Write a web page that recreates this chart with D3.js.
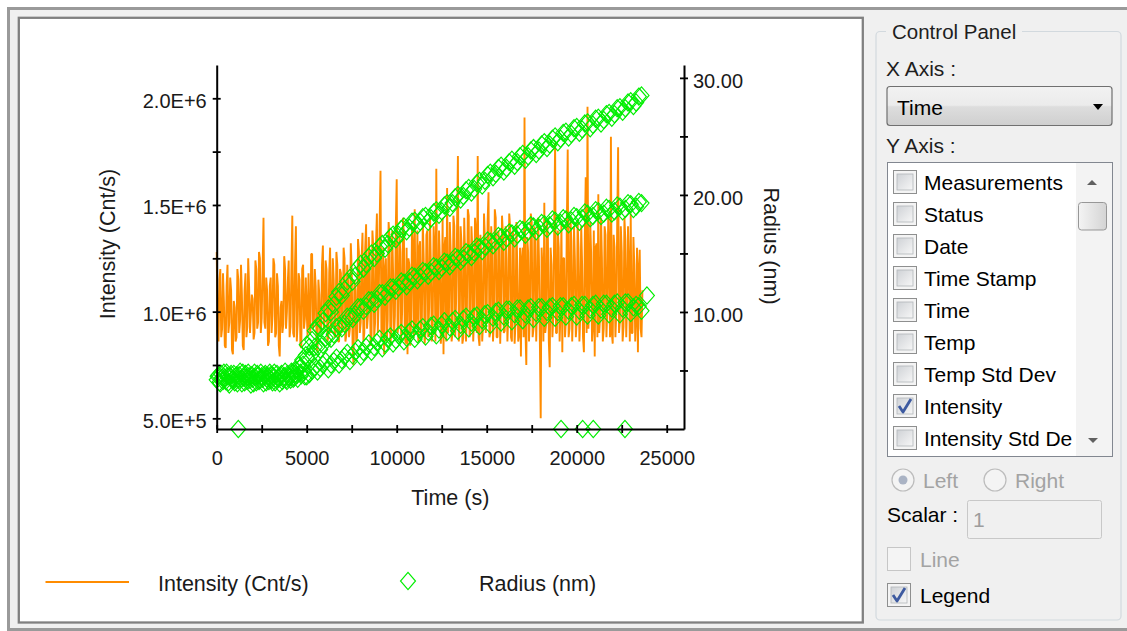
<!DOCTYPE html>
<html><head><meta charset="utf-8">
<script src="https://cdn.jsdelivr.net/npm/d3@7"></script>
<style>html,body{margin:0;padding:0;background:#fff;}svg{display:block;font-family:"Liberation Sans",Arial,sans-serif;}</style>
</head><body>
<svg id="c" width="1127" height="631"></svg>
<script>
// ---------------- DATA ----------------
const xTicks = [0,2500,5000,7500,10000,12500,15000,17500,20000,22500,25000];
const leftTicks = [500000,750000,1000000,1250000,1500000,1750000,2000000];
const rightTicks = [5,10,15,20,25,30];
const sampleInterval = 50; // s between intensity samples
// intensity, Cnt/s (in units of 1e6, one row = 1000 s)
const intensityM = [
1.28,0.90,0.86,1.15,1.20,0.88,0.92,1.18,1.05,0.84,0.83,1.12,1.22,0.90,0.95,1.16,1.10,0.82,0.80,1.05,
1.02,0.86,0.88,1.20,1.15,0.90,0.96,1.22,1.08,0.84,0.82,1.10,1.18,0.88,0.93,1.25,1.12,0.90,0.99,1.08,
1.06,0.87,0.90,1.24,1.20,0.92,0.95,1.28,1.25,0.90,0.97,1.20,1.44,0.95,0.92,1.16,1.10,0.84,0.86,1.12,
1.16,0.90,0.98,1.25,1.22,0.88,0.90,1.18,1.12,0.84,0.79,1.02,1.05,0.90,0.94,1.26,1.20,0.92,1.00,1.14,
1.24,0.88,0.93,1.20,1.45,0.90,0.88,1.22,1.40,0.86,0.95,1.18,1.15,0.84,0.83,1.20,1.22,0.92,0.97,1.16,
1.00,0.88,1.18,0.94,0.90,1.27,1.27,0.92,0.95,1.20,1.12,0.84,0.81,1.15,1.08,0.90,0.93,1.22,1.31,0.92,
0.97,1.24,1.20,0.86,0.88,1.18,1.30,0.90,0.96,1.25,1.15,0.88,0.90,1.28,1.22,0.86,0.86,1.20,1.18,0.90,
0.94,1.30,1.25,0.86,0.89,1.22,1.14,0.88,0.92,1.32,1.20,0.84,0.75,1.15,1.10,0.86,0.88,1.34,1.28,0.90,
0.95,1.25,1.37,0.86,0.90,1.30,1.41,0.92,0.98,1.35,1.22,0.84,0.87,1.38,1.30,0.88,0.95,1.32,1.46,0.90,
1.05,1.40,1.66,0.88,0.92,1.30,0.80,1.20,1.25,0.86,0.96,1.42,1.35,0.85,0.90,1.38,1.18,0.88,0.98,1.40,
1.62,0.90,0.94,1.36,1.28,0.86,1.00,1.44,1.36,0.88,0.85,1.30,0.80,1.25,1.22,0.84,0.95,1.40,1.30,0.88,
1.48,0.92,0.99,1.38,0.86,1.30,1.33,0.88,0.97,1.42,1.25,0.85,0.90,1.36,1.38,0.88,1.02,1.45,1.20,0.86,
0.94,1.40,1.30,0.86,1.67,0.92,0.98,1.38,1.24,0.85,0.92,1.44,0.80,1.30,1.35,0.86,1.58,0.90,0.96,1.42,
1.28,0.86,0.90,1.45,1.40,0.88,1.05,1.38,1.73,0.86,0.93,1.40,1.32,0.85,0.88,1.44,1.26,0.86,1.00,1.48,
1.45,0.88,0.92,1.40,1.30,0.86,0.97,1.44,1.38,0.90,1.73,0.88,0.84,1.36,1.22,0.86,0.95,1.46,1.34,0.90,
1.02,1.42,1.56,0.88,0.90,1.40,1.28,0.86,0.96,1.48,1.44,0.88,0.88,1.38,1.30,0.85,1.04,1.45,1.36,0.90,
0.91,1.40,1.25,0.86,0.99,1.46,1.40,0.88,0.86,1.38,1.32,0.85,0.95,1.42,1.20,0.86,0.89,1.30,0.79,1.25,
1.30,0.88,1.91,0.92,0.75,1.35,1.28,0.86,0.98,1.46,1.42,0.88,0.92,1.40,1.33,0.86,1.05,1.44,1.26,0.88,
0.50,1.30,1.20,0.86,1.51,0.90,0.94,1.42,1.35,0.86,0.74,1.30,1.22,0.88,0.98,1.40,1.79,0.90,0.90,1.38,
1.30,0.86,1.00,1.42,0.81,1.25,1.25,0.88,0.96,1.40,1.76,0.88,0.92,1.45,1.33,0.86,1.02,1.40,1.24,0.88,
0.95,1.42,1.30,0.86,0.99,1.40,1.22,0.88,0.81,1.35,1.63,0.90,1.96,0.92,1.05,1.42,1.28,0.86,0.93,1.38,
0.79,1.30,1.32,0.88,1.55,0.90,0.98,1.44,1.25,0.86,0.92,1.40,1.36,0.88,1.01,1.45,1.24,0.88,1.82,0.90,
0.85,1.36,1.30,0.88,1.00,1.42,1.77,0.90,0.96,1.40,1.28,0.86,0.93,1.44,1.34,0.88,1.05,1.40,1.20,0.86,
1.46,0.90,0.90,1.35,1.22,0.86,0.97,1.30,0.81,1.20,1.29,0.92,0.88,1.10
];
// radius [time s, radius nm]
const radiusEarly = [
[0,4.2],[100,4.6],[200,3.9],[300,4.4],[400,4.8],[500,4.1],[600,4.5],[700,3.8],[800,4.7],[900,4.3],
[1000,4.0],[1100,4.6],[1200,4.2],[1300,4.9],[1400,3.9],[1500,4.4],[1600,4.7],[1700,4.1],[1800,4.5],[1900,3.8],
[2000,4.3],[2100,4.8],[2200,4.0],[2300,4.6],[2400,4.2],[2500,4.5],[2600,3.9],[2700,4.7],[2800,4.3],[2900,4.1],
[3000,4.6],[3100,4.0],[3200,4.8],[3300,4.2],[3400,4.4],[3500,3.9],[3600,4.7],[3700,4.3],[3800,4.9],[3900,4.1],
[4000,4.5],[4100,4.2],[4200,4.8],[4300,4.4],[4400,5.0],[4500,4.3],[4600,5.2],[4700,4.6],[4800,5.5],[4900,4.5],
[50,4.5],[150,4.0],[250,4.7],[350,4.1],[450,4.4],[550,4.8],[650,4.0],[750,4.5],[850,4.2],[950,4.7],
[1050,4.3],[1150,3.9],[1250,4.6],[1350,4.3],[1450,4.8],[1550,4.0],[1650,4.4],[1750,4.8],[1850,4.2],[1950,4.6],
[2050,3.9],[2150,4.4],[2250,4.7],[2350,4.1],[2450,4.8],[2550,4.3],[2650,4.6],[2750,4.0],[2850,4.5],[2950,4.8],
[3050,4.2],[3150,4.5],[3250,4.0],[3350,4.7],[3450,4.3],[3550,4.6],[3650,4.1],[3750,4.5],[3850,4.2],[3950,4.7],
[4050,4.4],[4150,4.9],[4250,4.3],[4350,4.7],[4450,4.6],[4550,5.4],[4650,4.8],[4750,5.9],[4850,5.0],[4950,6.3]
];
const radiusUpper = [
[5000,7.2],[5300,7.6],[5600,8.8],[5900,9.2],[6200,10.3],[6500,10.6],[6800,11.7],[7100,11.9],[7400,12.9],[7700,13.1],
[8000,14.1],[8300,14.1],[8600,15.0],[8900,15.0],[9200,15.8],[9500,15.8],[9800,16.6],[10100,16.6],[10400,17.3],[10700,17.2],
[11000,17.8],[11300,17.7],[11600,18.2],[11900,18.0],[12200,18.7],[12500,18.6],[12800,19.3],[13100,19.3],[13400,20.0],[13700,19.9],
[14000,20.6],[14300,20.5],[14600,21.2],[14900,21.2],[15200,21.9],[15500,21.8],[15800,22.5],[16100,22.3],[16400,23.0],[16700,22.8],
[17000,23.5],[17300,23.3],[17600,24.0],[17900,23.8],[18200,24.5],[18500,24.3],[18800,25.0],[19100,24.8],[19400,25.4],[19700,25.2],
[20000,25.8],[20300,25.6],[20600,26.2],[20900,26.0],[21200,26.6],[21500,26.4],[21800,27.0],[22100,26.9],[22400,27.5],[22700,27.4],
[23000,28.0],[23300,27.9],[23600,28.5],
[5150,7.0],[5450,8.4],[5750,8.6],[6050,9.9],[6350,10.0],[6650,11.3],[6950,11.4],[7250,12.6],[7550,12.6],[7850,13.8],
[8150,13.7],[8450,14.7],[8750,14.6],[9050,15.6],[9350,15.4],[9650,16.4],[9950,16.2],[10250,17.1],[10550,16.9],[10850,17.7],
[11150,17.4],[11450,18.1],[11750,17.7],[12050,18.5],[12350,18.3],[12650,19.1],[12950,18.9],[13250,19.8],[13550,19.6],[13850,20.4],
[14150,20.2],[14450,21.0],[14750,20.8],[15050,21.7],[15350,21.5],[15650,22.3],[15950,22.0],[16250,22.8],[16550,22.5],[16850,23.3],
[17150,23.0],[17450,23.8],[17750,23.5],[18050,24.3],[18350,24.0],[18650,24.8],[18950,24.5],[19250,25.3],[19550,24.9],[19850,25.7],
[20150,25.3],[20450,26.1],[20750,25.7],[21050,26.5],[21350,26.1],[21650,26.9],[21950,26.6],[22250,27.4],[22550,27.1],[22850,27.9],
[23150,27.6],[23450,28.4]
];
const radiusMiddle = [
[5000,6.1],[5300,6.4],[5600,7.0],[5900,7.2],[6200,7.9],[6500,8.1],[6800,8.8],[7100,9.0],[7400,9.6],[7700,9.8],
[8000,10.4],[8300,10.5],[8600,11.0],[8900,11.1],[9200,11.6],[9500,11.6],[9800,12.1],[10100,12.1],[10400,12.5],[10700,12.6],
[11000,13.0],[11300,13.0],[11600,13.4],[11900,13.4],[12200,13.8],[12500,13.8],[12800,14.2],[13100,14.2],[13400,14.6],[13700,14.6],
[14000,15.0],[14300,15.1],[14600,15.5],[14900,15.6],[15200,16.0],[15500,16.0],[15800,16.4],[16100,16.3],[16400,16.7],[16700,16.6],
[17000,17.0],[17300,16.9],[17600,17.3],[17900,17.2],[18200,17.5],[18500,17.4],[18800,17.8],[19100,17.6],[19400,17.9],[19700,17.8],
[20000,18.1],[20300,18.0],[20600,18.4],[20900,18.2],[21200,18.6],[21500,18.4],[21800,18.8],[22100,18.6],[22400,19.0],[22700,18.8],
[23000,19.2],[23300,19.0],[23600,19.3],
[5150,5.9],[5450,7.0],[5750,6.8],[6050,7.8],[6350,7.7],[6650,8.7],[6950,8.6],[7250,9.6],[7550,9.4],[7850,10.4],
[8150,10.1],[8450,11.0],[8750,10.7],[9050,11.6],[9350,11.3],[9650,12.1],[9950,11.8],[10250,12.6],[10550,12.2],[10850,13.1],
[11150,12.7],[11450,13.5],[11750,13.1],[12050,13.9],[12350,13.5],[12650,14.3],[12950,13.9],[13250,14.7],[13550,14.3],[13850,15.1],
[14150,14.7],[14450,15.6],[14750,15.2],[15050,16.1],[15350,15.7],[15650,16.5],[15950,16.0],[16250,16.8],[16550,16.3],[16850,17.1],
[17150,16.6],[17450,17.4],[17750,16.9],[18050,17.6],[18350,17.1],[18650,17.9],[18950,17.3],[19250,18.0],[19550,17.5],[19850,18.2],
[20150,17.7],[20450,18.5],[20750,18.0],[21050,18.7],[21350,18.2],[21650,18.9],[21950,18.4],[22250,19.1],[22550,18.6],[22850,19.3],
[23150,18.8],[23450,19.4]
];
const radiusLower = [
[5000,4.5],[5300,5.0],[5600,4.9],[5900,5.5],[6200,5.1],[6500,5.8],[6800,5.5],[7100,6.2],[7400,5.8],[7700,6.6],
[8000,6.2],[8300,7.0],[8600,6.6],[8900,7.4],[9200,6.9],[9500,7.7],[9800,7.3],[10100,8.0],[10400,7.5],[10700,8.3],
[11000,7.7],[11300,8.5],[11600,7.9],[11900,8.8],[12200,8.0],[12500,8.9],[12800,8.3],[13100,9.2],[13400,8.4],[13700,9.4],
[14000,8.6],[14300,9.6],[14600,8.8],[14900,9.8],[15200,8.9],[15500,10.0],[15800,9.1],[16100,10.2],[16400,9.2],[16700,10.3],
[17000,9.3],[17300,10.3],[17600,9.4],[17900,10.4],[18200,9.5],[18500,10.4],[18800,9.5],[19100,10.5],[19400,9.6],[19700,10.5],
[20000,9.6],[20300,10.6],[20600,9.7],[20900,10.6],[21200,9.7],[21500,10.7],[21800,9.8],[22100,10.7],[22400,9.8],[22700,10.8],
[23000,9.9],[23300,10.6],[23600,10.1],[23900,11.4],
[5150,4.7],[5450,5.3],[5750,5.2],[6050,5.8],[6350,5.5],[6650,6.1],[6950,5.9],[7250,6.5],[7550,6.3],[7850,6.9],
[8150,6.6],[8450,7.3],[8750,7.0],[9050,7.7],[9350,7.3],[9650,7.9],[9950,7.6],[10250,8.2],[10550,7.8],[10850,8.5],
[11150,8.1],[11450,8.7],[11750,8.3],[12050,8.9],[12350,8.5],[12650,9.2],[12950,8.7],[13250,9.4],[13550,8.9],[13850,9.6],
[14150,9.1],[14450,9.7],[14750,9.3],[15050,9.9],[15350,9.5],[15650,10.1],[15950,9.6],[16250,10.2],[16550,9.8],[16850,10.3],
[17150,9.8],[17450,10.4],[17750,9.9],[18050,10.4],[18350,10.0],[18650,10.5],[18950,10.0],[19250,10.5],[19550,10.1],[19850,10.6],
[20150,10.1],[20450,10.6],[20750,10.2],[21050,10.7],[21350,10.2],[21650,10.7],[21950,10.3],[22250,10.8],[22550,10.3],[22850,10.8],
[23150,10.4],[23450,10.5]
];
const radiusZero = [[1200,0],[19130,0],[20330,0],[20920,0],[22680,0]];

const yAxisItems = ["Measurements","Status","Date","Time Stamp","Time","Temp","Temp Std Dev","Intensity","Intensity Std De"];
const yAxisChecked = [false,false,false,false,false,false,false,true,false];

// ---------------- DRAW ----------------
const svg = d3.select("#c");
const defs = svg.append("defs");
const g1 = defs.append("linearGradient").attr("id","cbg").attr("x1",0).attr("y1",0).attr("x2",1).attr("y2",1);
g1.append("stop").attr("offset","0%").attr("stop-color","#cfd2d6");
g1.append("stop").attr("offset","100%").attr("stop-color","#f7f7f7");
const g2 = defs.append("linearGradient").attr("id","ddg").attr("x1",0).attr("y1",0).attr("x2",0).attr("y2",1);
g2.append("stop").attr("offset","0%").attr("stop-color","#f2f2f2");
g2.append("stop").attr("offset","48%").attr("stop-color","#ebebeb");
g2.append("stop").attr("offset","52%").attr("stop-color","#dddddd");
g2.append("stop").attr("offset","100%").attr("stop-color","#cfcfcf");
const g3 = defs.append("linearGradient").attr("id","thg").attr("x1",0).attr("y1",0).attr("x2",1).attr("y2",0);
g3.append("stop").attr("offset","0%").attr("stop-color","#f4f4f4");
g3.append("stop").attr("offset","100%").attr("stop-color","#d4d4d4");
defs.append("clipPath").attr("id","listclip").append("rect").attr("x",888).attr("y",163).attr("width",186).attr("height",293);

// window background & frames
svg.append("rect").attr("x",0).attr("y",0).attr("width",1127).attr("height",631).attr("fill","#fff");
svg.append("rect").attr("x",8.5).attr("y",8.5).attr("width",1130).attr("height",621).attr("fill","#f0f0f0").attr("stroke","#9a9a9a").attr("stroke-width",3);
svg.append("rect").attr("x",18.8).attr("y",17.8).attr("width",844).attr("height",604.7).attr("fill","#fff").attr("stroke","#808080").attr("stroke-width",2.3);

const x = d3.scaleLinear().domain([0,25960]).range([216.7,684]);
const yL = d3.scaleLinear().domain([450000,2156000]).range([429,65]);
const yR = d3.scaleLinear().domain([0,31.1]).range([429,65]);

const FONT = "'Liberation Sans',Arial,sans-serif";
const TXT = "#1a1a1a";
const GREEN = "#00ee00";
const diamond = "M0,-8.6L7.5,0L0,8.6L-7.5,0Z";

// intensity line
const line = d3.line().x((d,i)=>x(i*sampleInterval)).y(d=>yL(d*1e6));
svg.append("path").datum(intensityM).attr("d", line)
  .attr("fill","none").attr("stroke","#ff8c00").attr("stroke-width",1.9).attr("stroke-linejoin","bevel");

// radius diamonds
const allRadius = [].concat(radiusEarly, radiusUpper, radiusMiddle, radiusLower, radiusZero);
svg.append("g").selectAll("path").data(allRadius).join("path")
  .attr("d", diamond)
  .attr("transform", d => `translate(${x(d[0])},${yR(d[1])})`)
  .attr("fill","none").attr("stroke",GREEN).attr("stroke-width",1.15);

// axes
function styleAxis(g){
  g.attr("font-family",FONT).attr("font-size",20);
  g.select(".domain").attr("stroke","#000").attr("stroke-width",2);
  g.selectAll(".tick line").attr("stroke","#000").attr("stroke-width",1.8);
  g.selectAll(".tick text").attr("fill",TXT);
}
const fmtE = d => { const e = Math.floor(Math.log10(d)+1e-9); return (d/Math.pow(10,e)).toFixed(1)+"E+"+e; };

const gx = svg.append("g").attr("transform","translate(0,429)")
  .call(d3.axisBottom(x).tickValues(xTicks).tickSize(4).tickSizeOuter(0).tickFormat(d => d%5000===0 ? String(d) : ""));
styleAxis(gx);
gx.selectAll(".tick line").attr("y1",-4).attr("y2",4);
gx.selectAll(".tick text").attr("y",36).attr("dy",0);

const gl = svg.append("g").attr("transform","translate(216.7,0)")
  .call(d3.axisLeft(yL).tickValues(leftTicks).tickSize(4).tickSizeOuter(0).tickFormat(d => d%500000===0 ? fmtE(d) : ""));
styleAxis(gl);
gl.selectAll(".tick line").attr("x1",4).attr("x2",-4);
gl.selectAll(".tick text").attr("x",-10).attr("dy",0).attr("y",9);

const gr = svg.append("g").attr("transform","translate(684,0)")
  .call(d3.axisRight(yR).tickValues(rightTicks).tickSize(4).tickSizeOuter(0).tickFormat(d => d%10===0 ? d.toFixed(2) : ""));
styleAxis(gr);
gr.selectAll(".tick line").attr("x1",-4).attr("x2",4);
gr.selectAll(".tick text").attr("x",9).attr("dy",0).attr("y",9.5);

// axis titles
svg.append("text").attr("x",450.3).attr("y",505).attr("text-anchor","middle").attr("font-family",FONT).attr("font-size",21.5).attr("fill",TXT).text("Time (s)");
svg.append("text").attr("transform","translate(115,244) rotate(-90)").attr("text-anchor","middle").attr("font-family",FONT).attr("font-size",21.5).attr("fill",TXT).text("Intensity (Cnt/s)");
svg.append("text").attr("transform","translate(764,246) rotate(90)").attr("text-anchor","middle").attr("font-family",FONT).attr("font-size",21.5).attr("fill",TXT).text("Radius (nm)");

// legend
svg.append("line").attr("x1",45.5).attr("x2",129).attr("y1",582).attr("y2",582).attr("stroke","#ff8c00").attr("stroke-width",2);
svg.append("text").attr("x",158).attr("y",591).attr("font-family",FONT).attr("font-size",21.5).attr("fill",TXT).text("Intensity (Cnt/s)");
svg.append("path").attr("d",diamond).attr("transform","translate(408,581)").attr("fill","none").attr("stroke",GREEN).attr("stroke-width",1.15);
svg.append("text").attr("x",479).attr("y",591).attr("font-family",FONT).attr("font-size",21.5).attr("fill",TXT).text("Radius (nm)");

// ---------------- CONTROL PANEL ----------------
const cp = svg.append("g").attr("font-family",FONT);
cp.append("rect").attr("x",876).attr("y",31.5).attr("width",245).attr("height",588.5).attr("rx",4).attr("fill","none").attr("stroke","#d2d9de").attr("stroke-width",1.2);
cp.append("rect").attr("x",886).attr("y",24).attr("width",136).attr("height",14).attr("fill","#f0f0f0");
cp.append("text").attr("x",892).attr("y",39).attr("font-size",20.5).attr("fill","#1e1e1e").text("Control Panel");
cp.append("text").attr("x",886).attr("y",76).attr("font-size",21).attr("fill","#1e1e1e").text("X Axis :");
// dropdown
cp.append("rect").attr("x",887).attr("y",86.5).attr("width",225).attr("height",39).attr("rx",3).attr("fill","url(#ddg)").attr("stroke","#707070").attr("stroke-width",1.2);
cp.append("text").attr("x",897).attr("y",115).attr("font-size",21).attr("fill","#000").text("Time");
cp.append("path").attr("d","M1093,104L1103,104L1098,110Z").attr("fill","#000");
cp.append("text").attr("x",886).attr("y",153).attr("font-size",21).attr("fill","#1e1e1e").text("Y Axis :");
// listbox
cp.append("rect").attr("x",887.5).attr("y",162.5).attr("width",225).attr("height",294).attr("fill","#fff").attr("stroke","#828790").attr("stroke-width",1);
cp.append("rect").attr("x",1076).attr("y",163).attr("width",36).attr("height",293).attr("fill","#f3f3f3");
cp.append("path").attr("d","M1087,185L1097,185L1092,180Z").attr("fill","#606060");
cp.append("path").attr("d","M1088,438L1098,438L1093,443Z").attr("fill","#606060");
cp.append("rect").attr("x",1078.5).attr("y",202.5).attr("width",28).attr("height",27.5).attr("rx",3).attr("fill","url(#thg)").attr("stroke","#979797");

function checkbox(g, x0, y0, checked, disabled){
  const s = 24;
  g.append("rect").attr("x",x0+0.5).attr("y",y0+0.5).attr("width",s-1).attr("height",s-1)
    .attr("fill","#f4f4f4").attr("stroke", disabled ? "#c6c6c6" : "#8e8f8f");
  if(!disabled){
    g.append("rect").attr("x",x0+4).attr("y",y0+4).attr("width",s-8).attr("height",s-8)
      .attr("fill","url(#cbg)").attr("stroke","#b2b6ba").attr("stroke-width",0.8);
  }
  if(checked){
    g.append("path").attr("d",`M${x0+6},${y0+12}L${x0+10},${y0+18}L${x0+18},${y0+5}`)
      .attr("fill","none").attr("stroke","#3d5aa0").attr("stroke-width",2.8).attr("stroke-linejoin","round");
  }
}
const list = cp.append("g").attr("clip-path","url(#listclip)");
yAxisItems.forEach((name,i) => {
  const cy = 182 + 32*i;
  checkbox(list, 893, cy-12, yAxisChecked[i], false);
  list.append("text").attr("x",924).attr("y",cy+8).attr("font-size",21).attr("fill","#000").text(name);
});

// radios
function radio(g, cx, cy, sel){
  g.append("circle").attr("cx",cx).attr("cy",cy).attr("r",11).attr("fill","#f4f4f4").attr("stroke","#bcbcbc").attr("stroke-width",1.2);
  if(sel) g.append("circle").attr("cx",cx).attr("cy",cy).attr("r",4.5).attr("fill","#aab3c4");
}
radio(cp, 903, 480, true);
cp.append("text").attr("x",923).attr("y",488).attr("font-size",21).attr("fill","#a3a3a3").text("Left");
radio(cp, 995, 480, false);
cp.append("text").attr("x",1015).attr("y",488).attr("font-size",21).attr("fill","#a3a3a3").text("Right");
// scalar
cp.append("text").attr("x",887).attr("y",522).attr("font-size",21).attr("fill","#000").text("Scalar :");
cp.append("rect").attr("x",967.5).attr("y",500.5).attr("width",134).attr("height",38).attr("rx",2).attr("fill","#f0f0f0").attr("stroke","#c8c8c8");
cp.append("text").attr("x",973).attr("y",527).attr("font-size",21).attr("fill","#9d9d9d").text("1");
// line / legend
checkbox(cp, 887, 547, false, true);
cp.append("text").attr("x",920).attr("y",567).attr("font-size",21).attr("fill","#a3a3a3").text("Line");
checkbox(cp, 887, 583, true, false);
cp.append("text").attr("x",920).attr("y",603).attr("font-size",21).attr("fill","#000").text("Legend");
</script>
</body></html>
